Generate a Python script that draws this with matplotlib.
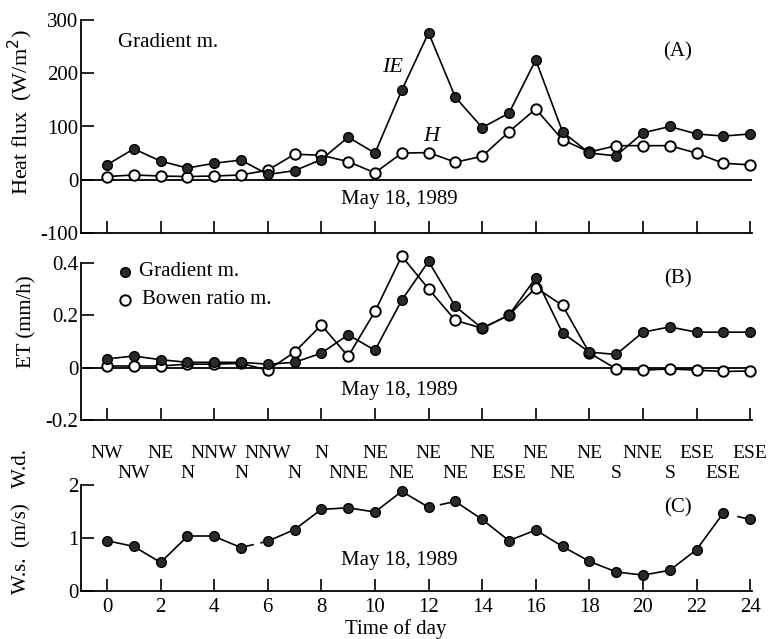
import numpy as np
import matplotlib.pyplot as plt

plt.rcParams['font.family'] = ['Liberation Serif', 'DejaVu Serif']

hours = np.arange(0, 25)

# (A) heat flux, W/m2
le_flux = [28, 58, 35, 22, 31, 37, 10, 17, 38, 80, 50,
           168, 276, 155, 98, 125, 225, 90, 50, 45, 88, 100, 86, 82, 86]
h_flux = [6, 9, 7, 6, 7, 9, 18, 48, 46, 34, 13,
          50, 51, 33, 44, 90, 133, 75, 52, 64, 64, 64, 50, 31, 28]

# (B) ET, mm/h
et_grad = [0.033, 0.044, 0.030, 0.020, 0.020, 0.020, 0.013, 0.020, 0.055, 0.125, 0.066,
           0.257, 0.405, 0.233, 0.150, 0.200, 0.342, 0.132, 0.059, 0.050, 0.135, 0.155,
           0.135, 0.135, 0.135]
et_bowen = [0.006, 0.006, 0.006, 0.013, 0.013, 0.016, -0.010, 0.059, 0.162, 0.043, 0.214,
            0.425, 0.300, 0.180, 0.150, 0.200, 0.305, 0.237, 0.056, -0.005, -0.010, -0.005,
            -0.010, -0.015, -0.013]

# (C) wind speed, m/s and direction
wind_speed = [0.95, 0.84, 0.54, 1.03, 1.03, 0.82, 0.94, 1.16, 1.54, 1.57, 1.49,
              1.88, 1.58, 1.69, 1.35, 0.95, 1.15, 0.84, 0.56, 0.36, 0.30, 0.39,
              0.78, 1.47, 1.35]
dir_even = ['NW', 'NE', 'NNW', 'NNW', 'N', 'NE', 'NE', 'NE', 'NE', 'NE', 'NNE', 'ESE', 'ESE']
dir_odd = ['NW', 'N', 'N', 'N', 'NNE', 'NE', 'NE', 'ESE', 'NE', 'S', 'S', 'ESE']
# broken line pieces in the printed curve: segment start -> (from, to) fraction
ws_gaps = {5: (0.45, 0.75), 12: (0.0, 0.45), 23: (0.0, 0.55)}

W, H = 769, 639
FS = 15
fig = plt.figure(figsize=(W / 100, H / 100), dpi=100)

def make_ax(top, bottom):
    ax = fig.add_axes([81 / W, 1 - bottom / H, 671 / W, (bottom - top) / H])
    ax.set_xlim(-0.97, 24.07)
    for s in ['top', 'right']:
        ax.spines[s].set_visible(False)
    for s in ['left', 'bottom']:
        ax.spines[s].set_linewidth(1.3)
    ax.set_xticks(np.arange(0, 25, 2))
    ax.tick_params(direction='in', length=9, width=1.2, labelsize=FS)
    ax.tick_params(axis='y', pad=2)
    ax.patch.set_alpha(0)
    return ax

dark = dict(marker='o', ms=7, mfc='#2a2a2a', mec='black', mew=1.0, color='black', lw=1.2, clip_on=False)
opn = dict(marker='o', ms=7.5, mfc='white', mec='black', mew=1.4, color='black', lw=1.2, clip_on=False)

# ---- (A)
ax1 = make_ax(20, 233)
ax1.set_ylim(-100, 300)
ax1.set_yticks([300, 200, 100, 0, -100])
ax1.set_yticklabels(['300', '200', '100', '0', '-100'])
ax1.tick_params(axis='x', labelbottom=False)
ax1.axhline(0, color='black', lw=1.3)
ax1.plot(hours, h_flux, zorder=3, **opn)
ax1.plot(hours, le_flux, zorder=4, **dark)
ax1.text(0.4, 257, 'Gradient m.', fontsize=FS, va='center')
ax1.text(21.3, 240, '(A)', fontsize=FS, ha='center', va='center')
ax1.text(10.65, 210, 'IE', fontsize=16, style='italic', ha='center', va='center')
ax1.text(12.1, 82, 'H', fontsize=16, style='italic', ha='center', va='center')
ax1.text(10.9, -38, 'May 18, 1989', fontsize=FS, ha='center', va='center')

# ---- (B)
ax2 = make_ax(262.7, 420)
ax2.set_ylim(-0.2, 0.4)
ax2.set_yticks([0.4, 0.2, 0, -0.2])
ax2.set_yticklabels(['0.4', '0.2', '0', '-0.2'])
ax2.tick_params(axis='x', labelbottom=False)
ax2.axhline(0, color='black', lw=1.3)
ax2.plot(hours, et_bowen, zorder=3, **opn)
ax2.plot(hours, et_grad, zorder=4, **dark)
ax2.plot([0.67], [0.366], **dark)
ax2.plot([0.67], [0.258], **opn)
ax2.text(1.2, 0.366, 'Gradient m.', fontsize=FS, va='center')
ax2.text(1.3, 0.258, 'Bowen ratio m.', fontsize=FS, va='center')
ax2.text(21.3, 0.34, '(B)', fontsize=FS, ha='center', va='center')
ax2.text(10.9, -0.086, 'May 18, 1989', fontsize=FS, ha='center', va='center')

# ---- (C)
ax3 = make_ax(485, 591)
ax3.set_ylim(0, 2)
ax3.set_yticks([2, 1, 0])
ax3.set_xticklabels([str(h) for h in range(0, 25, 2)])
ax3.tick_params(axis='x', pad=5)
ws = np.array(wind_speed)
for i in range(len(hours) - 1):
    x0, x1 = hours[i], hours[i + 1]
    y0, y1 = ws[i], ws[i + 1]
    if i in ws_gaps:
        f0, f1 = ws_gaps[i]
        if f0 > 0:
            ax3.plot([x0, x0 + f0 * (x1 - x0)], [y0, y0 + f0 * (y1 - y0)], color='black', lw=1.2)
        ax3.plot([x0 + f1 * (x1 - x0), x1], [y0 + f1 * (y1 - y0), y1], color='black', lw=1.2)
    else:
        ax3.plot([x0, x1], [y0, y1], color='black', lw=1.2)
ax3.plot(hours, ws, ls='none', zorder=4, **{k: v for k, v in dark.items() if k not in ('color', 'lw')})
for h, d in zip(range(0, 25, 2), dir_even):
    ax3.text(h, 2.6, d, fontsize=14, ha='center', va='center', clip_on=False)
for h, d in zip(range(1, 24, 2), dir_odd):
    ax3.text(h, 2.22, d, fontsize=14, ha='center', va='center', clip_on=False)
ax3.text(21.3, 1.57, '(C)', fontsize=FS, ha='center', va='center')
ax3.text(10.9, 0.58, 'May 18, 1989', fontsize=FS, ha='center', va='center')

fig.text(396 / W, 1 - 629 / H, 'Time of day', fontsize=FS, ha='center', va='center')
fig.text(20 / W, 1 - 112 / H, 'Heat flux  (W/m$^2$)', fontsize=16, rotation=90, ha='center', va='center')
fig.text(27 / W, 1 - 322 / H, 'ET (mm/h)', fontsize=FS, rotation=90, ha='center', va='center')
fig.text(22 / W, 1 - 522 / H, 'W.s.  (m/s)   W.d.', fontsize=FS, rotation=90, ha='center', va='center')

fig.savefig('out.png', dpi=100)
